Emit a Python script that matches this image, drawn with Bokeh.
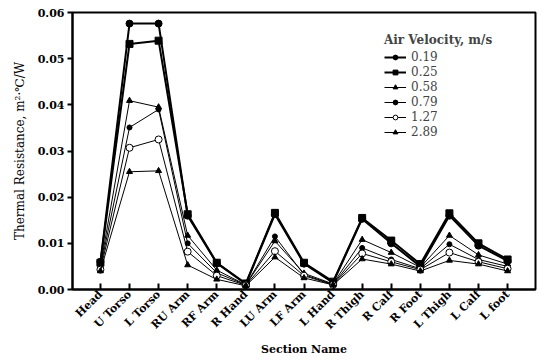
from bokeh.plotting import figure
from bokeh.models import FixedTicker, PrintfTickFormatter, Range1d, Legend
from bokeh.embed import file_html
from bokeh.resources import INLINE
import math

sections = ["Head", "U Torso", "L Torso", "RU Arm", "RF Arm", "R Hand", "LU Arm",
            "LF Arm", "L Hand", "R Thigh", "R Calf", "R Foot", "L Thigh", "L Calf", "L foot"]

v019 = [0.0060, 0.0576, 0.0576, 0.0160, 0.0057, 0.0012, 0.0163, 0.0056, 0.0015, 0.0153, 0.0100, 0.0050, 0.0160, 0.0095, 0.0062]
v025 = [0.0058, 0.0532, 0.0539, 0.0163, 0.0058, 0.0013, 0.0166, 0.0058, 0.0017, 0.0155, 0.0106, 0.0055, 0.0165, 0.0100, 0.0065]
v058 = [0.0050, 0.0409, 0.0395, 0.0117, 0.0042, 0.0010, 0.0105, 0.0035, 0.0012, 0.0108, 0.0080, 0.0048, 0.0117, 0.0075, 0.0055]
v079 = [0.0047, 0.0351, 0.0390, 0.0100, 0.0036, 0.0010, 0.0115, 0.0032, 0.0011, 0.0090, 0.0065, 0.0045, 0.0098, 0.0065, 0.0050]
v127 = [0.0043, 0.0307, 0.0325, 0.0082, 0.0030, 0.0009, 0.0083, 0.0030, 0.0010, 0.0078, 0.0060, 0.0043, 0.0080, 0.0060, 0.0045]
v289 = [0.0040, 0.0255, 0.0257, 0.0053, 0.0022, 0.0008, 0.0070, 0.0025, 0.0010, 0.0066, 0.0055, 0.0040, 0.0063, 0.0055, 0.0040]

labels = ["0.19", "0.25", "0.58", "0.79", "1.27", "2.89"]
series = [v019, v025, v058, v079, v127, v289]
markers = ["circle", "square", "triangle", "circle", "circle", "triangle"]
msizes = [7, 7, 6, 5, 7, 6]
fills = ["black", "black", "black", "black", "white", "black"]
lwidths = [2, 2, 1, 1, 1, 1]

yticks = [0.0, 0.01, 0.02, 0.03, 0.04, 0.05, 0.06]

x = list(range(len(sections)))

SERIF = "DejaVu Serif"

p = figure(width=541, height=360, output_backend="svg", toolbar_location=None,
           x_range=Range1d(-0.96, 14.96), y_range=Range1d(0, 0.06),
           min_border_left=72, min_border_right=6, min_border_top=12, min_border_bottom=71)

items = []
for lab, ys, mk, ms, fc, lw in zip(labels, series, markers, msizes, fills, lwidths):
    l = p.line(x, ys, line_color="black", line_width=lw)
    s = p.scatter(x, ys, marker=mk, size=ms, fill_color=fc, line_color="black", line_width=1)
    items.append((lab, [l, s]))

legend = Legend(items=items, location=(312, 150))
legend.title = "Air Velocity, m/s"
legend.title_text_font = SERIF
legend.title_text_font_size = "12px"
legend.title_text_font_style = "bold"
legend.label_text_font = SERIF
legend.label_text_font_size = "12px"
legend.border_line_color = None
legend.background_fill_alpha = 0
legend.glyph_width = 22
legend.glyph_height = 12
legend.label_height = 12
legend.spacing = 1
legend.padding = 4
legend.title_standoff = 3
p.add_layout(legend, "center")

p.grid.visible = False
p.outline_line_color = "black"
p.outline_line_width = 2

p.xaxis.ticker = FixedTicker(ticks=x)
p.xaxis.major_label_overrides = {i: s for i, s in enumerate(sections)}
p.xaxis.major_label_orientation = math.pi / 4
p.xaxis.major_tick_in = 6
p.xaxis.major_tick_out = 0
p.xaxis.minor_tick_line_color = None
p.xaxis.axis_label = "Section Name"

p.yaxis.ticker = FixedTicker(ticks=yticks)
p.yaxis.formatter = PrintfTickFormatter(format="%.2f")
p.yaxis.major_tick_in = 0
p.yaxis.major_tick_out = 5
p.yaxis.minor_tick_line_color = None
p.yaxis.axis_label = "Thermal Resistance, m²·℃/W"

for ax in (p.xaxis[0], p.yaxis[0]):
    ax.axis_line_width = 2
    ax.axis_line_color = "black"
    ax.major_tick_line_color = "black"
    ax.major_tick_line_width = 2
    ax.major_label_text_font = SERIF
    ax.major_label_text_font_size = "11px"
    ax.major_label_text_color = "black"
    ax.major_label_text_font_style = "bold"
    ax.axis_label_text_font = SERIF
    ax.axis_label_text_font_size = "11px"
    ax.axis_label_text_font_style = "bold"
    ax.axis_label_text_color = "black"
    ax.axis_label_standoff = 4
    ax.major_label_standoff = 3

p.yaxis.axis_label_text_font_style = "normal"
p.yaxis.axis_label_text_font_size = "12px"
p.yaxis.axis_label_standoff = 8

open("out.html", "w").write(file_html(p, INLINE))
